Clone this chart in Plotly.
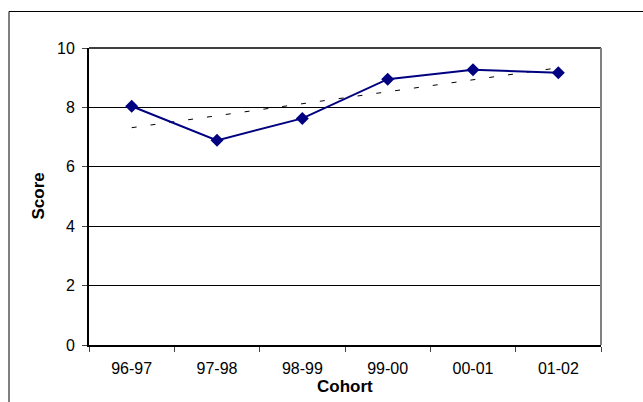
import numpy as np
import plotly.graph_objects as go

cohorts = ["96-97", "97-98", "98-99", "99-00", "00-01", "01-02"]
scores = [8.04, 6.89, 7.63, 8.95, 9.27, 9.17]
y_ticks = [0, 2, 4, 6, 8, 10]

# linear trendline (least squares), as in the original spreadsheet chart
idx = np.arange(len(scores))
slope, intercept = np.polyfit(idx, scores, 1)
trend = (slope * idx + intercept).tolist()

W, H = 643, 402
ML, MR, MT, MB = 89, 42, 48, 57
PW, PH = W - ML - MR, H - MT - MB

def px_x(p):
    return (p - ML) / PW

def px_y(p):
    return (H - MB - p) / PH

FONT = "Liberation Sans, Arial, sans-serif"

fig = go.Figure()
fig.add_trace(go.Scatter(
    x=cohorts, y=trend, mode="lines",
    line=dict(color="black", width=1, dash="5px,14px"),
    hoverinfo="skip", showlegend=False,
))
fig.add_trace(go.Scatter(
    x=cohorts, y=scores, mode="lines+markers",
    line=dict(color="#000080", width=2),
    marker=dict(symbol="diamond", size=10, color="#000080"),
    showlegend=False,
))

fig.update_layout(
    width=W, height=H,
    margin=dict(l=ML, r=MR, t=MT, b=MB, pad=0),
    paper_bgcolor="white", plot_bgcolor="white",
    font=dict(family=FONT, size=16, color="black"),
    xaxis=dict(
        type="category", range=[-0.5, 5.5],
        showgrid=False, zeroline=False,
        showline=True, linecolor="black", linewidth=1.5,
        ticks="outside", tickson="boundaries", ticklen=5, tickwidth=1, tickcolor="#444",
        tickfont=dict(size=16), ticklabelstandoff=8,
    ),
    yaxis=dict(
        range=[0, 10], tickvals=y_ticks, ticktext=[str(v) for v in y_ticks],
        showgrid=True, gridcolor="black", gridwidth=1,
        zeroline=False,
        showline=True, linecolor="black", linewidth=2,
        ticks="outside", ticklen=5, tickwidth=1, tickcolor="#444",
        tickfont=dict(size=16), ticklabelstandoff=4,
    ),
    shapes=[
        # outer chart frame (extends past the window)
        dict(type="rect", xref="paper", yref="paper",
             x0=px_x(9), x1=px_x(660), y0=px_y(420), y1=px_y(11.5),
             line=dict(color="black", width=1), fillcolor="rgba(0,0,0,0)", layer="below"),
        # plot area top and right borders
        dict(type="line", xref="paper", yref="paper", x0=0, x1=1, y0=1, y1=1,
             line=dict(color="black", width=1.5)),
        dict(type="line", xref="paper", yref="paper", x0=1, x1=1, y0=0, y1=1,
             line=dict(color="#808080", width=2)),
    ],
    annotations=[
        dict(text="<b>Cohort</b>", xref="paper", yref="paper",
             x=0.5, y=px_y(386), xanchor="center", yanchor="middle",
             showarrow=False, font=dict(size=17)),
        dict(text="<b>Score</b>", xref="paper", yref="paper",
             x=px_x(38), y=0.5, xanchor="center", yanchor="middle",
             textangle=-90, showarrow=False, font=dict(size=17)),
    ],
)

fig.write_html("out.html")
